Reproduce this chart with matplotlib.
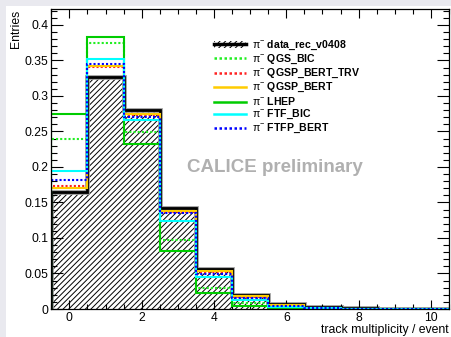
import numpy as np
import matplotlib
matplotlib.use("Agg")
import matplotlib.pyplot as plt
from matplotlib.patches import Patch, Rectangle
from matplotlib.lines import Line2D
from matplotlib.ticker import MultipleLocator, FuncFormatter

plt.rcParams["font.family"] = ["Liberation Sans", "DejaVu Sans"]
plt.rcParams["mathtext.fontset"] = "custom"
plt.rcParams["mathtext.rm"] = "Liberation Sans"
plt.rcParams["mathtext.it"] = "Liberation Sans:italic"
plt.rcParams["mathtext.bf"] = "Liberation Sans:bold"
plt.rcParams["hatch.linewidth"] = 0.7

# Track multiplicity per event (bins centred on integers 0..10)
multiplicity = np.arange(0, 11)

data_rec_v0408 = [0.1653, 0.327, 0.2803, 0.1418, 0.0563, 0.0197, 0.0066, 0.0024, 0.0009, 0.0004, 0.0002]
qgs_bic        = [0.2394, 0.374, 0.249, 0.0972, 0.029, 0.008, 0.002, 0.0007, 0.0002, 0.0001, 0.0]
qgsp_bert_trv  = [0.1737, 0.3413, 0.273, 0.137, 0.052, 0.017, 0.005, 0.0015, 0.0005, 0.0002, 0.0001]
qgsp_bert      = [0.170, 0.342, 0.275, 0.138, 0.053, 0.018, 0.0055, 0.0017, 0.0005, 0.0002, 0.0001]
lhep           = [0.2746, 0.3836, 0.2324, 0.0817, 0.022, 0.004, 0.001, 0.0003, 0.0001, 0.0, 0.0]
ftf_bic        = [0.1948, 0.3516, 0.266, 0.124, 0.0455, 0.0127, 0.0035, 0.001, 0.0003, 0.0001, 0.0]
ftfp_bert      = [0.1817, 0.3446, 0.2709, 0.1347, 0.0493, 0.015, 0.0045, 0.0013, 0.0004, 0.0001, 0.0]

edges = np.append(multiplicity - 0.5, multiplicity[-1] + 0.5)

W, H = 451, 337
fig = plt.figure(figsize=(W / 100, H / 100), dpi=100)
fig.patch.set_facecolor("#e9e9ef")
fig.add_artist(Rectangle((6 / W, 0), 1, 1 - 6 / H, transform=fig.transFigure,
                         facecolor="white", edgecolor="none", zorder=0))

ax = fig.add_axes([51.3 / W, 1 - 309 / H, (449 - 51.3) / W, (309 - 9.3) / H])
ax.set_facecolor("white")

# Data: hatched histogram with a heavy outline
ax.stairs(data_rec_v0408, edges, baseline=0, fill=True, facecolor="none",
          edgecolor="black", hatch="//////", linewidth=0, zorder=1)
ax.stairs(data_rec_v0408, edges, baseline=0, color="#9a9a9a", linewidth=3.4, zorder=1.5)
ax.stairs(data_rec_v0408, edges, baseline=0, color="black", linewidth=2.0, zorder=2)

dotted = (0, (1, 1))
mc = [
    (qgs_bic, "#22ee22", dotted, r"QGS_BIC"),
    (qgsp_bert_trv, "#ff2020", dotted, r"QGSP_BERT_TRV"),
    (qgsp_bert, "#ffcc00", "-", r"QGSP_BERT"),
    (lhep, "#00cc00", "-", r"LHEP"),
    (ftf_bic, "#00ffff", "-", r"FTF_BIC"),
    (ftfp_bert, "#0000ff", dotted, r"FTFP_BERT"),
]
for i, (vals, col, ls, _) in enumerate(mc):
    ax.stairs(vals, edges, baseline=0, color=col, linestyle=ls, linewidth=1.5, zorder=3 + i)

all_vals = [data_rec_v0408] + [m[0] for m in mc]
ymax = 1.1 * max(max(v) for v in all_vals)
ax.set_xlim(edges[0], edges[-1])
ax.set_ylim(0, ymax)

ax.xaxis.set_major_locator(MultipleLocator(2))
ax.xaxis.set_minor_locator(MultipleLocator(0.5))
ax.yaxis.set_major_locator(MultipleLocator(0.05))
ax.yaxis.set_minor_locator(MultipleLocator(0.01))
ax.yaxis.set_major_formatter(FuncFormatter(lambda v, p: "%g" % round(v, 3)))
ax.tick_params(axis="both", which="both", direction="in", top=True, right=True,
               labelsize=8.7, colors="black", width=0.8)
ax.tick_params(axis="x", which="major", length=6.5, pad=2.5)
ax.tick_params(axis="x", which="minor", length=3.3)
ax.tick_params(axis="y", which="major", length=8.4, pad=2.2)
ax.tick_params(axis="y", which="minor", length=4.5)
for s in ax.spines.values():
    s.set_linewidth(0.9)
    s.set_zorder(25)

fig.text(449 / W, 1 - 330 / H, "track multiplicity / event", ha="right", va="center", fontsize=8.8)
fig.text(16.5 / W, 1 - 9.5 / H, "Entries", ha="center", va="top", rotation=90, fontsize=8.8)

ax.text(275 / W, 1 - 168 / H, "CALICE preliminary", transform=fig.transFigure,
        ha="center", va="center", fontsize=13.5, fontweight="bold", color="#b0b0b0", zorder=20)

# Legend
data_handle = (Patch(facecolor="none", edgecolor="black", hatch="//////", linewidth=0),
               Line2D([], [], color="black", linewidth=2.5))
handles = [data_handle] + [Line2D([], [], color=c, linestyle=ls, linewidth=1.8) for _, c, ls, _ in mc]
labels = [r"$\mathrm{\pi}^{-}$ data_rec_v0408"] + [r"$\mathrm{\pi}^{-}$ " + m[3] for m in mc]
leg = ax.legend(handles, labels, loc="upper left",
                bbox_to_anchor=(214 / W, 1 - 39 / H), bbox_transform=fig.transFigure,
                frameon=False, borderpad=0, borderaxespad=0, handlelength=3.0,
                handletextpad=0.6, labelspacing=0.08,
                prop={"size": 7.6, "weight": "bold"})
leg.set_zorder(30)

fig.savefig("out.png", dpi=100, facecolor=fig.get_facecolor())
